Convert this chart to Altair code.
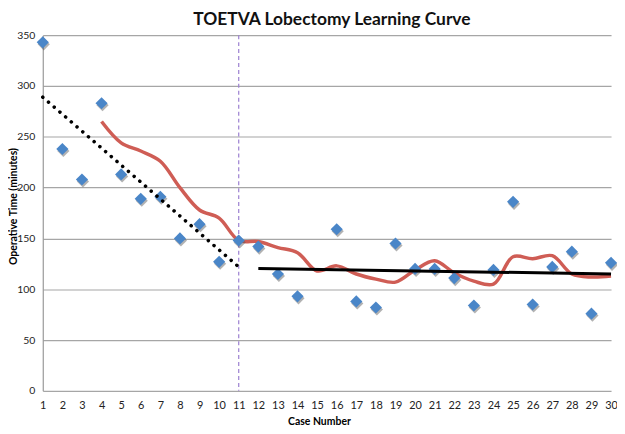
import altair as alt
import pandas as pd

# Observed cases (case 15 has no marker)
cases = [1, 2, 3, 4, 5, 6, 7, 8, 9, 10, 11, 12, 13, 14,
         16, 17, 18, 19, 20, 21, 22, 23, 24, 25, 26, 27, 28, 29, 30]
times = [343, 238, 208, 283, 213, 189, 191, 150, 164, 127, 148, 142, 115, 93,
         159, 88, 82, 145, 120, 120, 111, 84, 119, 186, 85, 122, 137, 76, 126]

# Moving-average curve (red)
ma_cases = list(range(4, 31))
ma_times = [265, 244, 236, 226, 200, 178, 170, 148, 147, 141, 136, 118, 123,
            115, 110, 107, 119, 128, 116, 108, 105, 132, 130, 133, 115, 112, 113]

# Trend lines
trend1_x = [1, 11]
trend1_y = [289, 122]
trend2_x = [12, 30]
trend2_y = [120.5, 115]

# Phase divider
divider_x = [11]

y_ticks = [0, 50, 100, 150, 200, 250, 300, 350]
x_ticks = list(range(1, 31))

pts = pd.DataFrame({"case": cases, "time": times})
ma = pd.DataFrame({"case": ma_cases, "time": ma_times})
t1 = pd.DataFrame({"case": trend1_x, "time": trend1_y})
t2 = pd.DataFrame({"case": trend2_x, "time": trend2_y})
div = pd.DataFrame({"case": divider_x})

xs = alt.Scale(domain=[1, 30], nice=False, zero=False)
ys = alt.Scale(domain=[0, 350], nice=False)

x_axis = alt.Axis(values=x_ticks, grid=False, ticks=False, domain=False,
                  labelPadding=9, labelFontSize=11, labelColor="#222",
                  labelOverlap=False, labelFlush=False, labelBound=False,
                  title="Case Number", titleFontSize=10.5, titleFontWeight="bold",
                  titleX=278, titleY=31, titleBaseline="middle", titleAlign="center")
y_axis = alt.Axis(values=y_ticks, grid=True, gridColor="#a6a6a6", gridWidth=1.2,
                  ticks=False, domain=True, domainColor="#999", domainWidth=1.2,
                  labelPadding=8, labelFontSize=10.5, labelColor="#222",
                  labelOverlap=False,
                  title="Operative Time (minutes)", titleFontSize=10.5,
                  titleFontWeight="bold", titleX=-29.5, titleY=172,
                  titleAngle=270, titleBaseline="middle", titleAlign="center")

X = alt.X("case:Q", scale=xs, axis=x_axis)
Y = alt.Y("time:Q", scale=ys, axis=y_axis)

rule = alt.Chart(div).mark_rule(color="#9b7fd1", strokeDash=[4, 3], strokeWidth=1.2).encode(
    x=X, y=alt.value(0), y2=alt.value(358))

red = alt.Chart(ma).mark_line(color="#cf5d55", strokeWidth=3.5,
                              interpolate="catmull-rom").encode(x=X, y=Y)

shadow = alt.Chart(pts).mark_point(shape="diamond", filled=True, size=150, color="#555",
                                    opacity=0.45, yOffset=2, xOffset=1).encode(x=X, y=Y)
markers = alt.Chart(pts).mark_point(shape="diamond", filled=True, size=150, color="#4a86c8",
                                     opacity=1).encode(x=X, y=Y)

dotted = alt.Chart(t1).mark_line(color="black", strokeWidth=3.5, strokeDash=[0.1, 7.5],
                                 strokeCap="round").encode(x=X, y=Y)
solid = alt.Chart(t2).mark_line(color="black", strokeWidth=3).encode(x=X, y=Y)

chart = alt.layer(red, rule, shadow, markers, dotted, solid).properties(
    width=572, height=358,
    title=alt.TitleParams("TOETVA Lobectomy Learning Curve", fontSize=17.5,
                          fontWeight="bold", anchor="middle", offset=2, dx=5,
                          color="#111"),
    autosize=alt.AutoSizeParams(type="none"),
    padding={"left": 35, "top": 26, "right": 6, "bottom": 34},
).configure(font="Lato").configure_view(stroke=None).configure_axisX(
    labelOverlap=False
)

chart.save("out.html", embed_options={"renderer": "svg", "actions": False})
